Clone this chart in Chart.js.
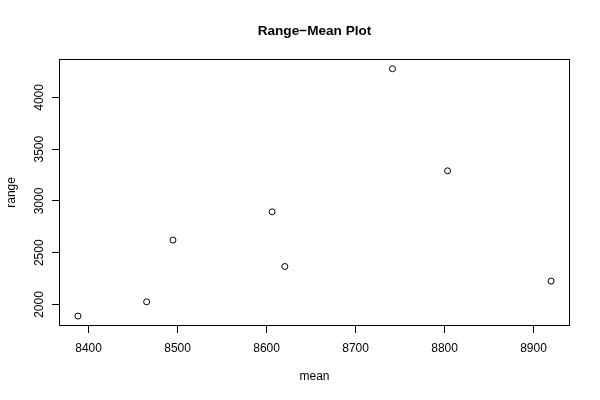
<!DOCTYPE html>
<html>
<head>
<meta charset="utf-8">
<script src="https://cdn.jsdelivr.net/npm/chart.js@4/dist/chart.umd.min.js"></script>
<style>
  html, body { margin: 0; padding: 0; background: #ffffff; }
  #wrap { width: 600px; height: 400px; }
</style>
</head>
<body>
<div id="wrap"><canvas id="c" width="600" height="400"></canvas></div>
<script>
// ---- data ----
const chartTitle = 'Range\u2212Mean Plot';
const xAxisTitle = 'mean';
const yAxisTitle = 'range';
const meanValues  = [8388.0, 8465.2, 8494.8, 8606.2, 8620.5, 8741.5, 8803.4, 8919.7];
const rangeValues = [1888, 2026, 2622, 2895, 2367, 4277, 3291, 2226];
const xTicks = [8400, 8500, 8600, 8700, 8800, 8900];
const yTicks = [2000, 2500, 3000, 3500, 4000];

// R-style 4% axis expansion
function expand(arr) {
  const lo = Math.min(...arr), hi = Math.max(...arr), r = hi - lo;
  return [lo - 0.04 * r, hi + 0.04 * r];
}
const [xMin, xMax] = expand(meanValues);
const [yMin, yMax] = expand(rangeValues);

const FONT = '"Liberation Sans", Arial, Helvetica, sans-serif';
const points = meanValues.map((m, i) => ({ x: m, y: rangeValues[i] }));

const boxPlugin = {
  id: 'rbox',
  afterDraw(chart) {
    const { ctx, chartArea: a } = chart;
    ctx.save();
    ctx.strokeStyle = '#000';
    ctx.lineWidth = 1;
    ctx.strokeRect(Math.round(a.left) + 0.5, Math.round(a.top) + 0.5,
                   Math.round(a.right - a.left) - 1, Math.round(a.bottom - a.top) - 1);
    // rotated y tick labels (R style, parallel to axis)
    const ys = chart.scales.y;
    ctx.fillStyle = '#000';
    ctx.font = '12px ' + FONT;
    ctx.textAlign = 'center';
    ctx.textBaseline = 'middle';
    yTicks.forEach(v => {
      const py = ys.getPixelForValue(v);
      ctx.save();
      ctx.translate(40, py);
      ctx.rotate(-Math.PI / 2);
      ctx.fillText(String(v), 0, 0);
      ctx.restore();
    });
    ctx.restore();
  }
};

new Chart(document.getElementById('c'), {
  type: 'scatter',
  data: {
    datasets: [{
      data: points,
      pointStyle: 'circle',
      pointRadius: 3,
      pointHoverRadius: 3,
      borderColor: '#000',
      backgroundColor: 'rgba(0,0,0,0)',
      borderWidth: 1
    }]
  },
  options: {
    responsive: false,
    animation: false,
    devicePixelRatio: 1,
    events: [],
    layout: { padding: { left: 0, right: 30, top: 0, bottom: 0 } },
    plugins: {
      legend: { display: false },
      tooltip: { enabled: false },
      title: {
        display: true,
        text: chartTitle,
        fullSize: false,
        color: '#000',
        font: { family: FONT, size: 13.6, weight: 'bold' },
        padding: { top: 23, bottom: 19.5 }
      }
    },
    scales: {
      x: {
        type: 'linear',
        min: xMin, max: xMax,
        afterBuildTicks: s => { s.ticks = xTicks.map(v => ({ value: v })); },
        afterFit: s => { s.height = 74; },
        grid: { display: true, drawOnChartArea: false, drawTicks: true, tickLength: 7, color: '#000', lineWidth: 1 },
        border: { display: false },
        ticks: { color: '#000', font: { family: FONT, size: 12 }, padding: 8, maxRotation: 0, autoSkip: false,
                 callback: v => String(v) },
        title: { display: true, text: xAxisTitle, color: '#000', font: { family: FONT, size: 12 },
                 padding: { top: 0, bottom: 16 } }
      },
      y: {
        type: 'linear',
        min: yMin, max: yMax,
        afterBuildTicks: s => { s.ticks = yTicks.map(v => ({ value: v })); },
        afterFit: s => { s.width = 59; },
        grid: { display: true, drawOnChartArea: false, drawTicks: true, tickLength: 7, color: '#000', lineWidth: 1 },
        border: { display: false },
        ticks: { display: false },
        title: { display: true, text: yAxisTitle, color: '#000', font: { family: FONT, size: 12 },
                 padding: { top: 4, bottom: 0 } }
      }
    }
  },
  plugins: [boxPlugin]
});
</script>
</body>
</html>
